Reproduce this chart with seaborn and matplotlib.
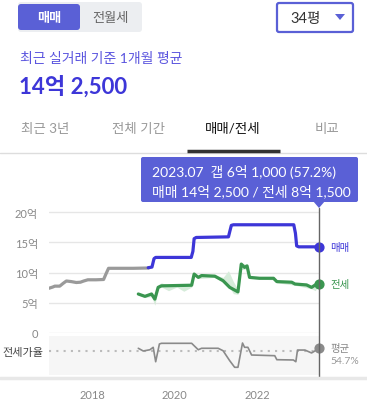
import numpy as np
import pandas as pd
import seaborn as sns
import matplotlib
matplotlib.use("Agg")
import matplotlib.pyplot as plt
from matplotlib.patches import FancyBboxPatch, Polygon

# --- data (x in decimal years, values in 억) ---
old_year = [2016.96, 2017.05, 2017.10, 2017.22, 2017.30, 2017.38, 2017.50, 2017.62,
            2017.72, 2017.80, 2017.90, 2018.10, 2018.28, 2018.34, 2018.40, 2019.00, 2019.37]
old_price = [7.4, 7.6, 7.75, 7.75, 8.2, 8.6, 8.5, 8.35,
             8.4, 8.6, 8.8, 8.8, 8.85, 9.8, 10.7, 10.7, 10.75]

sale_year = [2019.36, 2019.45, 2019.50, 2019.54, 2020.40, 2020.44, 2020.47, 2020.52,
             2021.30, 2021.34, 2021.37, 2021.42, 2022.88, 2022.92, 2022.95, 2023.00, 2023.49]
sale_price = [10.8, 10.9, 12.3, 12.5, 12.5, 13.5, 15.6, 15.8,
              15.9, 17.0, 17.8, 17.9, 17.9, 16.5, 14.4, 14.25, 14.25]

rent_year = [2019.12, 2019.28, 2019.44, 2019.52, 2019.60, 2019.68, 2020.41, 2020.47,
             2020.57, 2020.65, 2020.97, 2021.17, 2021.33, 2021.53, 2021.61, 2021.69,
             2021.75, 2021.81, 2022.05, 2022.39, 2022.47, 2022.83, 2022.91, 2023.19,
             2023.31, 2023.40, 2023.49]
rent_price = [6.45, 6.06, 6.45, 5.6, 7.55, 7.8, 7.9, 9.75,
              9.2, 9.5, 9.4, 8.65, 7.55, 6.8, 11.4, 10.85,
              11.1, 9.2, 9.05, 9.05, 8.5, 8.4, 8.1, 7.95,
              7.55, 7.95, 8.15]

band_year = [2019.12, 2019.28, 2019.44, 2019.52, 2019.60, 2019.68, 2019.85, 2020.05,
             2020.22, 2020.41, 2020.47, 2020.57, 2020.97, 2021.17, 2021.30, 2021.42,
             2021.53, 2021.61, 2021.75, 2021.81, 2022.39, 2022.47, 2022.91, 2023.31,
             2023.40, 2023.49]
band_low = [6.3, 5.9, 6.0, 4.6, 7.3, 7.6, 7.0, 7.6,
            6.9, 7.6, 9.5, 9.0, 9.2, 8.4, 7.8, 6.5,
            6.4, 10.5, 10.6, 9.0, 8.8, 8.3, 7.9, 7.3,
            7.0, 8.0]
band_high = [6.6, 6.3, 6.8, 6.0, 8.0, 8.3, 7.9, 8.0,
             7.9, 8.0, 9.9, 9.4, 9.6, 9.2, 10.3, 8.5,
             7.2, 11.6, 11.3, 9.4, 9.3, 8.7, 8.3, 7.7,
             8.2, 8.3]

ratio_year = [2019.12, 2019.24, 2019.40, 2019.48, 2019.54, 2019.63, 2019.68, 2020.41,
              2020.57, 2020.65, 2021.05, 2021.17, 2021.33, 2021.45, 2021.53, 2021.64,
              2021.69, 2021.77, 2021.86, 2022.42, 2022.47, 2022.87, 2022.93, 2022.97,
              2023.15, 2023.31, 2023.49]
ratio_pct = [57.4, 54.6, 55.9, 58.4, 43.6, 61.8, 62.5, 62.5,
             55.9, 57.4, 57.4, 54.9, 44.7, 37.9, 37.9, 62.8,
             58.4, 58.4, 50.5, 49.8, 45.7, 45.4, 43.6, 55.6,
             55.6, 52.6, 57.2]
ratio_avg = 54.7

y_ticks = [0, 5, 10, 15, 20]
y_labels = ["0", "5억", "10억", "15억", "20억"]
x_ticks = [2018, 2020, 2022]
x_labels = ["2018", "2020", "2022"]

BLUE = "#3d36d8"
GREEN = "#3a9650"
GRAY = "#9a9a9a"
UI_BLUE = "#5a60d6"

sns.set_style("white")
plt.rcParams['font.family'] = ['Lato', 'Noto Sans CJK KR', 'DejaVu Sans']

W, H = 367, 402
fig = plt.figure(figsize=(W / 100, H / 100), dpi=100)

xlim = (2016.96, 2023.49)
line_kw = dict(lw=2.3, solid_joinstyle="round", solid_capstyle="round")

# main price chart
ax = fig.add_axes([49 / W, (H - 334) / H, 270 / W, 130 / H])
ax.fill_between(band_year, band_low, band_high, color="#d6ecda", lw=0, zorder=1)
sns.lineplot(x=old_year, y=old_price, ax=ax, color=GRAY, zorder=3, **line_kw)
sns.lineplot(x=sale_year, y=sale_price, ax=ax, color=BLUE, zorder=3, **line_kw)
sns.lineplot(x=rent_year, y=rent_price, ax=ax, color=GREEN, zorder=3, **line_kw)
ax.scatter([sale_year[-1]], [sale_price[-1]], s=40, color=BLUE, zorder=5, clip_on=False)
ax.scatter([rent_year[-1]], [rent_price[-1]], s=40, color=GREEN, zorder=5, clip_on=False)
ax.annotate("매매", (sale_year[-1], sale_price[-1]), xytext=(8, 0), textcoords="offset points",
            va="center", ha="left", fontsize=7.5, color=BLUE)
ax.annotate("전세", (rent_year[-1], rent_price[-1]), xytext=(8, 0), textcoords="offset points",
            va="center", ha="left", fontsize=7.5, color=GREEN)
ax.set_xlim(*xlim)
ax.set_ylim(0, 21.5)
ax.set_yticks(y_ticks)
ax.set_yticklabels(y_labels)
ax.set_xticks([])
ax.tick_params(axis="y", length=0, pad=8, labelsize=8, labelcolor="#888888")
ax.grid(axis="y", color="#e6e6e6", lw=1)
ax.set_axisbelow(True)
for s in ax.spines.values():
    s.set_visible(False)
ax.patch.set_alpha(0)

# jeonse ratio strip
ax2 = fig.add_axes([49 / W, 26 / H, 270 / W, 39 / H])
ax2.set_facecolor("#f6f6f6")
ax2.axhline(ratio_avg, color="#bbbbbb", ls=(0, (1, 2.5)), lw=1.5)
sns.lineplot(x=ratio_year, y=ratio_pct, ax=ax2, color="#8a8a8a", lw=1.2, solid_joinstyle="round")
ax2.scatter([ratio_year[-1]], [ratio_pct[-1]], s=40, color="#8a8a8a", zorder=5, clip_on=False)
ax2.annotate("평균", (ratio_year[-1], ratio_pct[-1]), xytext=(8, 0), textcoords="offset points",
             va="center", ha="left", fontsize=7.5, color="#888888")
ax2.annotate(f"{ratio_avg}%", (ratio_year[-1], ratio_pct[-1]), xytext=(8, -9), textcoords="offset points",
             va="center", ha="left", fontsize=7.5, color="#999999")
ax2.set_xlim(*xlim)
ax2.set_ylim(30, 70)
ax2.set_yticks([ratio_avg])
ax2.set_yticklabels(["전세가율"])
ax2.set_xticks(x_ticks)
ax2.set_xticklabels(x_labels)
ax2.tick_params(axis="y", length=0, pad=4, labelsize=8, labelcolor="#444444")
ax2.tick_params(axis="x", length=0, pad=10, labelsize=8, labelcolor="#888888")
ax2.set_xlabel("")
ax2.set_ylabel("")
for s in ax2.spines.values():
    s.set_visible(False)

# page furniture in pixel coordinates
ui = fig.add_axes([0, 0, 1, 1], zorder=10)
ui.set_xlim(0, W)
ui.set_ylim(H, 0)
ui.axis("off")

ui.add_patch(FancyBboxPatch((18, 3), 124, 30, boxstyle="round,pad=0,rounding_size=3",
                            fc="#eceef1", ec="none"))
ui.add_patch(FancyBboxPatch((18, 5), 62, 26, boxstyle="round,pad=0,rounding_size=3",
                            fc=UI_BLUE, ec="none"))
ui.text(49, 18, "매매", color="white", fontsize=9.5, weight="bold", ha="center", va="center")
ui.text(111, 18, "전월세", color="#666666", fontsize=9.5, ha="center", va="center")
ui.add_patch(FancyBboxPatch((277, 4), 76, 29, boxstyle="round,pad=0,rounding_size=2",
                            fc="white", ec=UI_BLUE, lw=1.6))
ui.text(306, 19, "34평", color="#333333", fontsize=10.5, ha="center", va="center")
ui.add_patch(Polygon([[335, 15], [345, 15], [340, 21]], closed=True, fc=UI_BLUE, ec="none"))

ui.text(20, 58, "최근 실거래 기준 1개월 평균", color="#5b55df", fontsize=10, ha="left", va="center")
ui.text(19, 87, "14억 2,500", color="#3d36d8", fontsize=16, weight="bold", ha="left", va="center")

for label, cx, col in [("최근 3년", 45, "#999999"), ("전체 기간", 139, "#999999"),
                       ("매매/전세", 233, "#111111"), ("비교", 327, "#999999")]:
    ui.text(cx, 129, label, color=col, fontsize=9.7, ha="center", va="center")
ui.plot([0, W], [153.5, 153.5], color="#dddddd", lw=1)
ui.plot([187, 280], [152, 152], color="#333333", lw=2.5, solid_capstyle="butt")

# tooltip
ui.add_patch(FancyBboxPatch((141, 158), 217, 45, boxstyle="round,pad=0,rounding_size=2",
                            fc=UI_BLUE, ec="none"))
ui.add_patch(Polygon([[313, 202], [325, 202], [319, 209]], closed=True, fc=UI_BLUE, ec="none"))
ui.text(152, 172, "2023.07  갭 6억 1,000 (57.2%)", color="white", fontsize=10, ha="left", va="center")
ui.text(152, 191, "매매 14억 2,500 / 전세 8억 1,500", color="white", fontsize=10, ha="left", va="center")
ui.plot([319, 319], [209, 378], color="#666666", lw=1, zorder=1)
ui.plot([0, W], [378.5, 378.5], color="#e8e8e8", lw=2.5)

fig.savefig("out.png", dpi=100)
